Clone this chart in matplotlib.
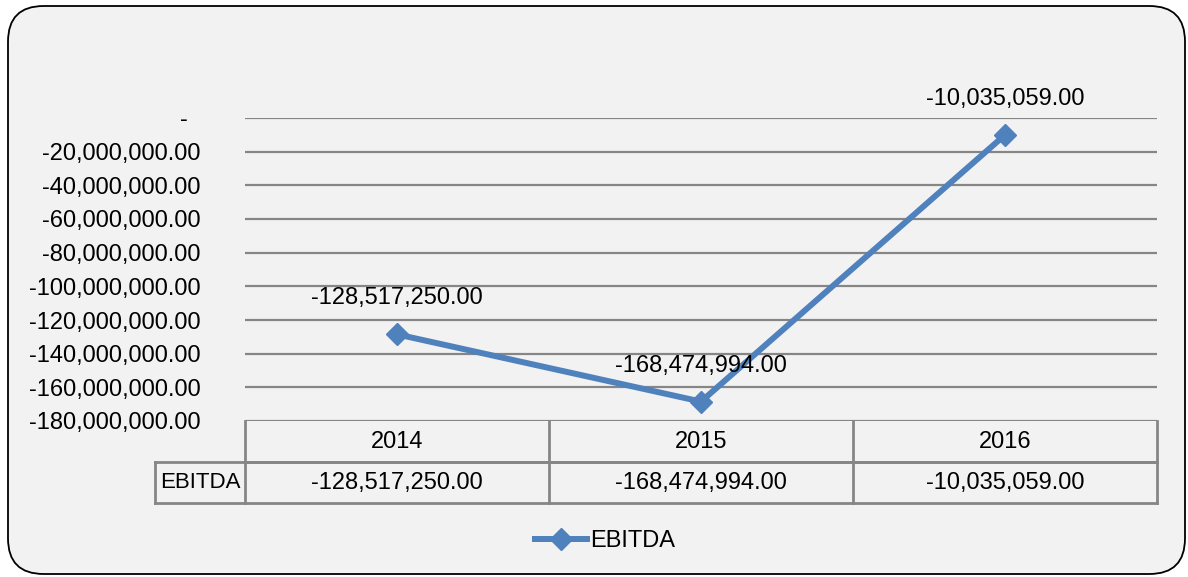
import matplotlib.pyplot as plt
from matplotlib.patches import FancyBboxPatch
import matplotlib.transforms as mtransforms

plt.rcParams["font.family"] = ["Liberation Sans", "DejaVu Sans"]

years = ["2014", "2015", "2016"]
ebitda = [-128517250.00, -168474994.00, -10035059.00]
yticks = [0, -20e6, -40e6, -60e6, -80e6, -100e6, -120e6, -140e6, -160e6, -180e6]
series_name = "EBITDA"

W, H = 1188, 577
FS = 17
fig = plt.figure(figsize=(W / 100, H / 100), dpi=100, facecolor="white")

# rounded chart area
box = FancyBboxPatch((8 / W, 3 / H), 1177 / W, 568 / H,
                     boxstyle="round,pad=0,rounding_size=0.03",
                     transform=fig.transFigure, facecolor="#F2F2F2",
                     edgecolor="black", linewidth=1.3, mutation_aspect=W / H,
                     zorder=-1)
fig.patches.append(box)

left, right, top, bottom = 245, 1157, 118, 421
ax = fig.add_axes([left / W, 1 - bottom / H, (right - left) / W, (bottom - top) / H])
ax.set_facecolor("none")
for s in ax.spines.values():
    s.set_visible(False)

grid_c = "#868686"
ax.set_xlim(-0.5, len(years) - 0.5)
ax.set_ylim(-180e6, 0)
ax.set_yticks(yticks)
ax.set_yticklabels(["-  " if v == 0 else f"{v:,.2f}" for v in yticks], fontsize=FS)
ax.tick_params(axis="y", length=0, pad=32)
ax.set_xticks([])
for v in yticks:
    ax.axhline(v, color=grid_c, linewidth=1.6, zorder=1)

x = list(range(len(years)))
ax.plot(x, ebitda, color="#4F81BD", linewidth=4.3, marker="D", markersize=11,
        zorder=3, clip_on=False, label=series_name)
for xi, v in zip(x, ebitda):
    ax.annotate(f"{v:,.2f}", (xi, v), xytext=(0, 18), textcoords="offset points",
                ha="center", va="bottom", fontsize=FS)

# data table below the plot
rh = 41 / (bottom - top)
tr = mtransforms.blended_transform_factory(ax.transData, ax.transAxes)
lkw = dict(color=grid_c, linewidth=2, clip_on=False, transform=tr, zorder=2)
lab_left = -0.5 - (left - 155) / ((right - left) / len(years))
ax.plot([-0.5, 2.5], [-rh, -rh], **lkw)
ax.plot([lab_left, 2.5], [-rh, -rh], **lkw)
ax.plot([lab_left, 2.5], [-2 * rh, -2 * rh], **lkw)
ax.plot([lab_left, lab_left], [-rh, -2 * rh], **lkw)
for b in [-0.5, 0.5, 1.5, 2.5]:
    ax.plot([b, b], [0, -2 * rh], **lkw)
for xi, yr, v in zip(x, years, ebitda):
    ax.text(xi, -0.5 * rh, yr, transform=tr, ha="center", va="center", fontsize=FS)
    ax.text(xi, -1.5 * rh, f"{v:,.2f}", transform=tr, ha="center", va="center", fontsize=FS)
ax.text((lab_left - 0.5) / 2, -1.5 * rh, series_name, transform=tr,
        ha="center", va="center", fontsize=16)

fig.legend(loc="center", bbox_to_anchor=(605 / W, 1 - 541 / H), frameon=False,
           fontsize=FS, handlelength=2.2, handletextpad=0.1)

fig.savefig("out.png", dpi=100, facecolor=fig.get_facecolor())
